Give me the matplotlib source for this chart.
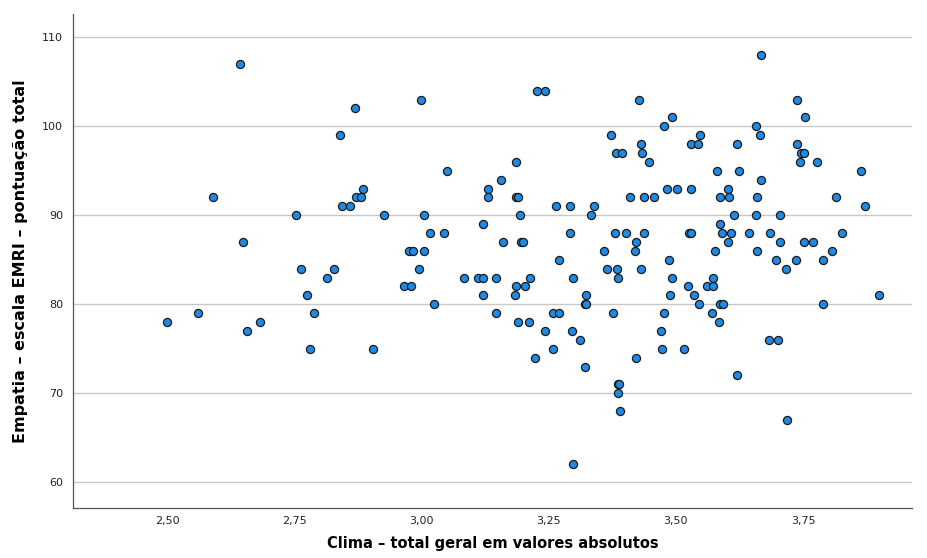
import matplotlib

matplotlib.use("Agg")
import matplotlib.pyplot as plt
from matplotlib.ticker import FuncFormatter

# Clima (x) and Empatia EMRI (y)
clima = [
    2.643, 2.839, 2.590, 2.843, 2.753, 2.649,
    2.869, 2.998, 3.051, 3.185, 3.156, 2.885, 3.131, 2.871, 2.882, 3.130,
    3.185, 3.190, 2.860, 3.193, 2.926, 3.004, 3.120, 3.017, 3.044, 3.160,
    3.196, 3.200, 2.975, 2.983, 3.004,
    3.227, 3.242, 3.428, 3.493, 3.476, 3.372, 3.547, 3.431, 3.530, 3.544,
    3.383, 3.394, 3.434, 3.448, 3.580, 3.482, 3.502, 3.530, 3.409, 3.437,
    3.456, 3.587, 3.265, 3.292, 3.339, 3.333, 3.587, 3.291, 3.380, 3.402,
    3.437, 3.525, 3.529, 3.422, 3.359, 3.420, 3.577, 3.270, 3.487,
    3.667, 3.739, 3.753, 3.657, 3.666, 3.621, 3.738, 3.745, 3.752, 3.743,
    3.778, 3.625, 3.863, 3.667, 3.602, 3.604, 3.659, 3.815, 3.872, 3.614,
    3.658, 3.705, 3.590, 3.608, 3.644, 3.685, 3.826, 3.602, 3.705, 3.751,
    3.770, 3.660, 3.806, 3.697, 3.736, 3.789,
    2.764, 2.828, 2.815, 2.775, 2.560, 2.788, 2.500, 2.683, 2.656, 2.780,
    2.995, 2.966, 2.980, 3.083, 3.112, 3.120, 3.146, 3.120, 3.185, 3.204,
    3.183, 3.213, 3.024, 3.147, 3.190, 3.212, 2.905,
    3.297, 3.365, 3.384, 3.386, 3.432, 3.493, 3.523, 3.562, 3.572, 3.572,
    3.488, 3.535, 3.324, 3.322, 3.324, 3.546, 3.587, 3.258, 3.270, 3.377,
    3.477, 3.571, 3.585, 3.243, 3.295, 3.471, 3.311, 3.259, 3.472, 3.515,
    3.223, 3.422, 3.321, 3.386, 3.388, 3.386, 3.390, 3.297,
    3.716, 3.592, 3.789, 3.899, 3.683, 3.700, 3.620, 3.718,
]
empatia = [
    107, 99, 92, 91, 90, 87,
    102, 103, 95, 96, 94, 93, 93, 92, 92, 92,
    92, 92, 91, 90, 90, 90, 89, 88, 88, 87,
    87, 87, 86, 86, 86,
    104, 104, 103, 101, 100, 99, 99, 98, 98, 98,
    97, 97, 97, 96, 95, 93, 93, 93, 92, 92,
    92, 92, 91, 91, 91, 90, 89, 88, 88, 88,
    88, 88, 88, 87, 86, 86, 86, 85, 85,
    108, 103, 101, 100, 99, 98, 98, 97, 97, 96,
    96, 95, 95, 94, 93, 92, 92, 92, 91, 90,
    90, 90, 88, 88, 88, 88, 88, 87, 87, 87,
    87, 86, 86, 85, 85, 85,
    84, 84, 83, 81, 79, 79, 78, 78, 77, 75,
    84, 82, 82, 83, 83, 83, 83, 81, 82, 82,
    81, 83, 80, 79, 78, 78, 75,
    83, 84, 84, 83, 84, 83, 82, 82, 82, 83,
    81, 81, 81, 80, 80, 80, 80, 79, 79, 79,
    79, 79, 78, 77, 77, 77, 76, 75, 75, 75,
    74, 74, 73, 71, 71, 70, 68, 62,
    84, 80, 80, 81, 76, 76, 72, 67,
]

x_ticks = [2.50, 2.75, 3.00, 3.25, 3.50, 3.75]
y_ticks = [60, 70, 80, 90, 100, 110]

fig = plt.figure(figsize=(9.28, 5.58), dpi=100)
ax = fig.add_axes([0.0787, 0.0896, 0.904, 0.885])

ax.scatter(clima, empatia, s=34, color="#1E8AE6", edgecolors="#1a1a1a",
           linewidths=0.9, zorder=3)

ax.set_xlim(2.315, 3.964)
ax.set_ylim(57.1, 112.6)
ax.set_xticks(x_ticks)
ax.set_yticks(y_ticks)
ax.xaxis.set_major_formatter(FuncFormatter(lambda v, _: f"{v:.2f}".replace(".", ",")))
ax.tick_params(length=0, labelsize=8, colors="#222222")
ax.tick_params(axis="x", pad=6)
ax.tick_params(axis="y", pad=7)
ax.yaxis.grid(True, color="#C8C8C8", linewidth=1.0, zorder=0)
ax.set_axisbelow(True)

for side in ("top", "right"):
    ax.spines[side].set_visible(False)
for side in ("left", "bottom"):
    ax.spines[side].set_color("#555555")
    ax.spines[side].set_linewidth(0.9)

ax.set_xlabel("Clima – total geral em valores absolutos", fontsize=10.5,
              fontweight="bold", labelpad=7)
ax.set_ylabel("Empatia – escala EMRI – pontuação total", fontsize=11.5,
              fontweight="bold", labelpad=10)

fig.savefig("out.png", dpi=100)
